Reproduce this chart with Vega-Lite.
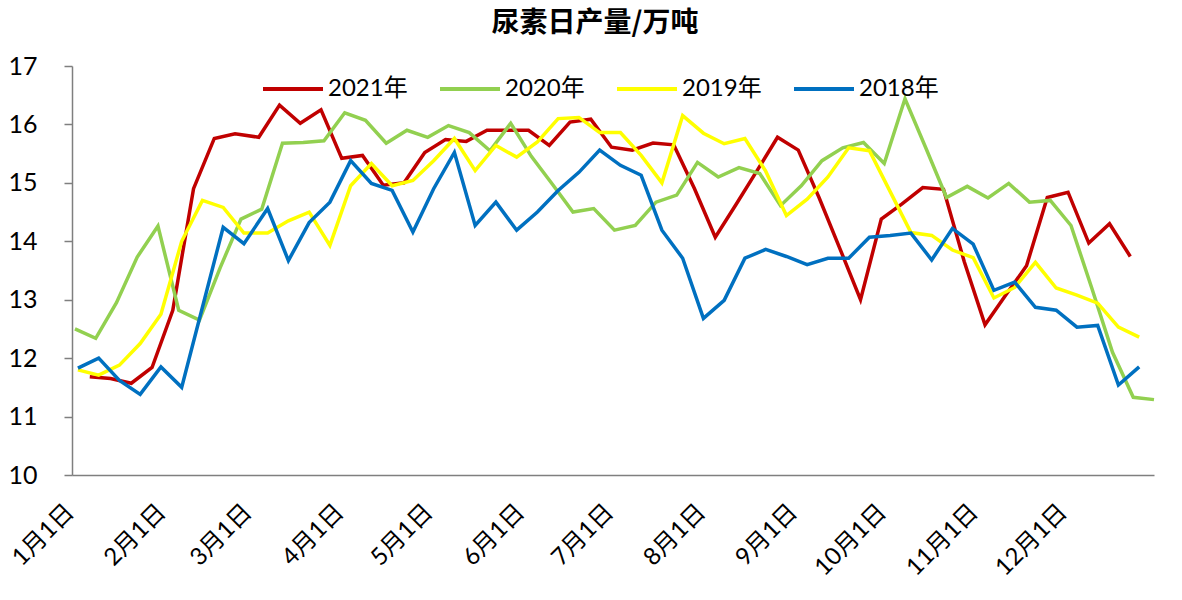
{
  "$schema": "https://vega.github.io/schema/vega-lite/v6.json",
  "description": "尿素日产量/万吨, weekly, 2018-2021",
  "width": 1082,
  "height": 409,
  "autosize": "none",
  "padding": {"left": 72, "top": 66, "right": 28, "bottom": 125},
  "background": "#ffffff",
  "title": {
    "text": "尿素日产量/万吨",
    "font": "Noto Sans CJK SC",
    "fontSize": 28,
    "fontWeight": "bold",
    "color": "#000000",
    "anchor": "middle",
    "frame": "group",
    "offset": 16,
    "dx": -18
  },
  "data": {
    "values": [
      {"s": "2021年", "date": "2021-01-07", "v": 11.68},
      {"s": "2021年", "date": "2021-01-14", "v": 11.65},
      {"s": "2021年", "date": "2021-01-21", "v": 11.57},
      {"s": "2021年", "date": "2021-01-28", "v": 11.84},
      {"s": "2021年", "date": "2021-02-04", "v": 12.82},
      {"s": "2021年", "date": "2021-02-11", "v": 14.9},
      {"s": "2021年", "date": "2021-02-18", "v": 15.76},
      {"s": "2021年", "date": "2021-02-25", "v": 15.84},
      {"s": "2021年", "date": "2021-03-04", "v": 15.78},
      {"s": "2021年", "date": "2021-03-11", "v": 16.33},
      {"s": "2021年", "date": "2021-03-18", "v": 16.02},
      {"s": "2021年", "date": "2021-03-25", "v": 16.25},
      {"s": "2021年", "date": "2021-04-01", "v": 15.42},
      {"s": "2021年", "date": "2021-04-08", "v": 15.47},
      {"s": "2021年", "date": "2021-04-15", "v": 14.96},
      {"s": "2021年", "date": "2021-04-22", "v": 15.0},
      {"s": "2021年", "date": "2021-04-29", "v": 15.52},
      {"s": "2021年", "date": "2021-05-06", "v": 15.74},
      {"s": "2021年", "date": "2021-05-13", "v": 15.71},
      {"s": "2021年", "date": "2021-05-20", "v": 15.9},
      {"s": "2021年", "date": "2021-05-27", "v": 15.9},
      {"s": "2021年", "date": "2021-06-03", "v": 15.9},
      {"s": "2021年", "date": "2021-06-10", "v": 15.64},
      {"s": "2021年", "date": "2021-06-17", "v": 16.04},
      {"s": "2021年", "date": "2021-06-24", "v": 16.09},
      {"s": "2021年", "date": "2021-07-01", "v": 15.61},
      {"s": "2021年", "date": "2021-07-08", "v": 15.56},
      {"s": "2021年", "date": "2021-07-15", "v": 15.68},
      {"s": "2021年", "date": "2021-07-22", "v": 15.65},
      {"s": "2021年", "date": "2021-07-29", "v": 14.9},
      {"s": "2021年", "date": "2021-08-05", "v": 14.07},
      {"s": "2021年", "date": "2021-08-12", "v": 14.63},
      {"s": "2021年", "date": "2021-08-19", "v": 15.2},
      {"s": "2021年", "date": "2021-08-26", "v": 15.78},
      {"s": "2021年", "date": "2021-09-02", "v": 15.56},
      {"s": "2021年", "date": "2021-09-09", "v": 14.75},
      {"s": "2021年", "date": "2021-09-16", "v": 13.88},
      {"s": "2021年", "date": "2021-09-23", "v": 13.0},
      {"s": "2021年", "date": "2021-09-30", "v": 14.38},
      {"s": "2021年", "date": "2021-10-07", "v": 14.64},
      {"s": "2021年", "date": "2021-10-14", "v": 14.92},
      {"s": "2021年", "date": "2021-10-21", "v": 14.89},
      {"s": "2021年", "date": "2021-10-28", "v": 13.65},
      {"s": "2021年", "date": "2021-11-04", "v": 12.57},
      {"s": "2021年", "date": "2021-11-11", "v": 13.08},
      {"s": "2021年", "date": "2021-11-18", "v": 13.58},
      {"s": "2021年", "date": "2021-11-25", "v": 14.75},
      {"s": "2021年", "date": "2021-12-02", "v": 14.84},
      {"s": "2021年", "date": "2021-12-09", "v": 13.97},
      {"s": "2021年", "date": "2021-12-16", "v": 14.3},
      {"s": "2021年", "date": "2021-12-23", "v": 13.74},

      {"s": "2020年", "date": "2020-01-02", "v": 12.5},
      {"s": "2020年", "date": "2020-01-09", "v": 12.34},
      {"s": "2020年", "date": "2020-01-16", "v": 12.95},
      {"s": "2020年", "date": "2020-01-23", "v": 13.73},
      {"s": "2020年", "date": "2020-01-30", "v": 14.26},
      {"s": "2020年", "date": "2020-02-06", "v": 12.82},
      {"s": "2020年", "date": "2020-02-13", "v": 12.65},
      {"s": "2020年", "date": "2020-02-20", "v": 13.55},
      {"s": "2020年", "date": "2020-02-27", "v": 14.38},
      {"s": "2020年", "date": "2020-03-05", "v": 14.55},
      {"s": "2020年", "date": "2020-03-12", "v": 15.68},
      {"s": "2020年", "date": "2020-03-19", "v": 15.69},
      {"s": "2020年", "date": "2020-03-26", "v": 15.72},
      {"s": "2020年", "date": "2020-04-02", "v": 16.2},
      {"s": "2020年", "date": "2020-04-09", "v": 16.07},
      {"s": "2020年", "date": "2020-04-16", "v": 15.68},
      {"s": "2020年", "date": "2020-04-23", "v": 15.9},
      {"s": "2020年", "date": "2020-04-30", "v": 15.78},
      {"s": "2020年", "date": "2020-05-07", "v": 15.98},
      {"s": "2020年", "date": "2020-05-14", "v": 15.86},
      {"s": "2020年", "date": "2020-05-21", "v": 15.55},
      {"s": "2020年", "date": "2020-05-28", "v": 16.02},
      {"s": "2020年", "date": "2020-06-04", "v": 15.45},
      {"s": "2020年", "date": "2020-06-11", "v": 14.98},
      {"s": "2020年", "date": "2020-06-18", "v": 14.5},
      {"s": "2020年", "date": "2020-06-25", "v": 14.56},
      {"s": "2020年", "date": "2020-07-02", "v": 14.19},
      {"s": "2020年", "date": "2020-07-09", "v": 14.27},
      {"s": "2020年", "date": "2020-07-16", "v": 14.67},
      {"s": "2020年", "date": "2020-07-23", "v": 14.79},
      {"s": "2020年", "date": "2020-07-30", "v": 15.35},
      {"s": "2020年", "date": "2020-08-06", "v": 15.1},
      {"s": "2020年", "date": "2020-08-13", "v": 15.26},
      {"s": "2020年", "date": "2020-08-20", "v": 15.16},
      {"s": "2020年", "date": "2020-08-27", "v": 14.61},
      {"s": "2020年", "date": "2020-09-03", "v": 14.95},
      {"s": "2020年", "date": "2020-09-10", "v": 15.38},
      {"s": "2020年", "date": "2020-09-17", "v": 15.6},
      {"s": "2020年", "date": "2020-09-24", "v": 15.69},
      {"s": "2020年", "date": "2020-10-01", "v": 15.33},
      {"s": "2020年", "date": "2020-10-08", "v": 16.44},
      {"s": "2020年", "date": "2020-10-15", "v": 15.6},
      {"s": "2020年", "date": "2020-10-22", "v": 14.75},
      {"s": "2020年", "date": "2020-10-29", "v": 14.94},
      {"s": "2020年", "date": "2020-11-05", "v": 14.74},
      {"s": "2020年", "date": "2020-11-12", "v": 14.99},
      {"s": "2020年", "date": "2020-11-19", "v": 14.67},
      {"s": "2020年", "date": "2020-11-26", "v": 14.7},
      {"s": "2020年", "date": "2020-12-03", "v": 14.27},
      {"s": "2020年", "date": "2020-12-10", "v": 13.2},
      {"s": "2020年", "date": "2020-12-17", "v": 12.1},
      {"s": "2020年", "date": "2020-12-24", "v": 11.33},
      {"s": "2020年", "date": "2020-12-31", "v": 11.29},

      {"s": "2019年", "date": "2019-01-03", "v": 11.8},
      {"s": "2019年", "date": "2019-01-10", "v": 11.71},
      {"s": "2019年", "date": "2019-01-17", "v": 11.88},
      {"s": "2019年", "date": "2019-01-24", "v": 12.25},
      {"s": "2019年", "date": "2019-01-31", "v": 12.75},
      {"s": "2019年", "date": "2019-02-07", "v": 14.0},
      {"s": "2019年", "date": "2019-02-14", "v": 14.7},
      {"s": "2019年", "date": "2019-02-21", "v": 14.58},
      {"s": "2019年", "date": "2019-02-28", "v": 14.14},
      {"s": "2019年", "date": "2019-03-07", "v": 14.14},
      {"s": "2019年", "date": "2019-03-14", "v": 14.35},
      {"s": "2019年", "date": "2019-03-21", "v": 14.5},
      {"s": "2019年", "date": "2019-03-28", "v": 13.93},
      {"s": "2019年", "date": "2019-04-04", "v": 14.95},
      {"s": "2019年", "date": "2019-04-11", "v": 15.33},
      {"s": "2019年", "date": "2019-04-18", "v": 14.95},
      {"s": "2019年", "date": "2019-04-25", "v": 15.04},
      {"s": "2019年", "date": "2019-05-02", "v": 15.38},
      {"s": "2019年", "date": "2019-05-09", "v": 15.76},
      {"s": "2019年", "date": "2019-05-16", "v": 15.21},
      {"s": "2019年", "date": "2019-05-23", "v": 15.64},
      {"s": "2019年", "date": "2019-05-30", "v": 15.44},
      {"s": "2019年", "date": "2019-06-06", "v": 15.7},
      {"s": "2019年", "date": "2019-06-13", "v": 16.1},
      {"s": "2019年", "date": "2019-06-20", "v": 16.12},
      {"s": "2019年", "date": "2019-06-27", "v": 15.86},
      {"s": "2019年", "date": "2019-07-04", "v": 15.86},
      {"s": "2019年", "date": "2019-07-11", "v": 15.47},
      {"s": "2019年", "date": "2019-07-18", "v": 15.0},
      {"s": "2019年", "date": "2019-07-25", "v": 16.15},
      {"s": "2019年", "date": "2019-08-01", "v": 15.85},
      {"s": "2019年", "date": "2019-08-08", "v": 15.67},
      {"s": "2019年", "date": "2019-08-15", "v": 15.76},
      {"s": "2019年", "date": "2019-08-22", "v": 15.2},
      {"s": "2019年", "date": "2019-08-29", "v": 14.44},
      {"s": "2019年", "date": "2019-09-05", "v": 14.72},
      {"s": "2019年", "date": "2019-09-12", "v": 15.1},
      {"s": "2019年", "date": "2019-09-19", "v": 15.6},
      {"s": "2019年", "date": "2019-09-26", "v": 15.55},
      {"s": "2019年", "date": "2019-10-03", "v": 14.85},
      {"s": "2019年", "date": "2019-10-10", "v": 14.15},
      {"s": "2019年", "date": "2019-10-17", "v": 14.1},
      {"s": "2019年", "date": "2019-10-24", "v": 13.85},
      {"s": "2019年", "date": "2019-10-31", "v": 13.72},
      {"s": "2019年", "date": "2019-11-07", "v": 13.03},
      {"s": "2019年", "date": "2019-11-14", "v": 13.21},
      {"s": "2019年", "date": "2019-11-21", "v": 13.64},
      {"s": "2019年", "date": "2019-11-28", "v": 13.2},
      {"s": "2019年", "date": "2019-12-05", "v": 13.08},
      {"s": "2019年", "date": "2019-12-12", "v": 12.94},
      {"s": "2019年", "date": "2019-12-19", "v": 12.53},
      {"s": "2019年", "date": "2019-12-26", "v": 12.36},

      {"s": "2018年", "date": "2018-01-03", "v": 11.83},
      {"s": "2018年", "date": "2018-01-10", "v": 12.0},
      {"s": "2018年", "date": "2018-01-17", "v": 11.62},
      {"s": "2018年", "date": "2018-01-24", "v": 11.38},
      {"s": "2018年", "date": "2018-01-31", "v": 11.85},
      {"s": "2018年", "date": "2018-02-07", "v": 11.5},
      {"s": "2018年", "date": "2018-02-14", "v": 12.87},
      {"s": "2018年", "date": "2018-02-21", "v": 14.24},
      {"s": "2018年", "date": "2018-02-28", "v": 13.96},
      {"s": "2018年", "date": "2018-03-07", "v": 14.56},
      {"s": "2018年", "date": "2018-03-14", "v": 13.67},
      {"s": "2018年", "date": "2018-03-21", "v": 14.32},
      {"s": "2018年", "date": "2018-03-28", "v": 14.67},
      {"s": "2018年", "date": "2018-04-04", "v": 15.38},
      {"s": "2018年", "date": "2018-04-11", "v": 14.99},
      {"s": "2018年", "date": "2018-04-18", "v": 14.87},
      {"s": "2018年", "date": "2018-04-25", "v": 14.16},
      {"s": "2018年", "date": "2018-05-02", "v": 14.9},
      {"s": "2018年", "date": "2018-05-09", "v": 15.52},
      {"s": "2018年", "date": "2018-05-16", "v": 14.27},
      {"s": "2018年", "date": "2018-05-23", "v": 14.67},
      {"s": "2018年", "date": "2018-05-30", "v": 14.19},
      {"s": "2018年", "date": "2018-06-06", "v": 14.5},
      {"s": "2018年", "date": "2018-06-13", "v": 14.87},
      {"s": "2018年", "date": "2018-06-20", "v": 15.18},
      {"s": "2018年", "date": "2018-06-27", "v": 15.56},
      {"s": "2018年", "date": "2018-07-04", "v": 15.3},
      {"s": "2018年", "date": "2018-07-11", "v": 15.13},
      {"s": "2018年", "date": "2018-07-18", "v": 14.19},
      {"s": "2018年", "date": "2018-07-25", "v": 13.71},
      {"s": "2018年", "date": "2018-08-01", "v": 12.68},
      {"s": "2018年", "date": "2018-08-08", "v": 12.99},
      {"s": "2018年", "date": "2018-08-15", "v": 13.71},
      {"s": "2018年", "date": "2018-08-22", "v": 13.86},
      {"s": "2018年", "date": "2018-08-29", "v": 13.74},
      {"s": "2018年", "date": "2018-09-05", "v": 13.6},
      {"s": "2018年", "date": "2018-09-12", "v": 13.71},
      {"s": "2018年", "date": "2018-09-19", "v": 13.71},
      {"s": "2018年", "date": "2018-09-26", "v": 14.07},
      {"s": "2018年", "date": "2018-10-03", "v": 14.1},
      {"s": "2018年", "date": "2018-10-10", "v": 14.14},
      {"s": "2018年", "date": "2018-10-17", "v": 13.68},
      {"s": "2018年", "date": "2018-10-24", "v": 14.22},
      {"s": "2018年", "date": "2018-10-31", "v": 13.95},
      {"s": "2018年", "date": "2018-11-07", "v": 13.16},
      {"s": "2018年", "date": "2018-11-14", "v": 13.3},
      {"s": "2018年", "date": "2018-11-21", "v": 12.87},
      {"s": "2018年", "date": "2018-11-28", "v": 12.82},
      {"s": "2018年", "date": "2018-12-05", "v": 12.53},
      {"s": "2018年", "date": "2018-12-12", "v": 12.56},
      {"s": "2018年", "date": "2018-12-19", "v": 11.54},
      {"s": "2018年", "date": "2018-12-26", "v": 11.85}
    ]
  },
  "mark": {"type": "line", "strokeWidth": 3.5, "strokeJoin": "miter"},
  "encoding": {
    "x": {
      "field": "date",
      "timeUnit": "utcmonthdate",
      "type": "temporal",
      "scale": {
        "type": "utc",
        "domain": [
          {"year": 2012, "month": 1, "date": 1, "utc": true},
          {"year": 2012, "month": 12, "date": 31, "utc": true}
        ]
      },
      "axis": {
        "title": null,
        "values": [
          {"year": 2012, "month": 1, "date": 1, "utc": true},
          {"year": 2012, "month": 2, "date": 1, "utc": true},
          {"year": 2012, "month": 3, "date": 1, "utc": true},
          {"year": 2012, "month": 4, "date": 1, "utc": true},
          {"year": 2012, "month": 5, "date": 1, "utc": true},
          {"year": 2012, "month": 6, "date": 1, "utc": true},
          {"year": 2012, "month": 7, "date": 1, "utc": true},
          {"year": 2012, "month": 8, "date": 1, "utc": true},
          {"year": 2012, "month": 9, "date": 1, "utc": true},
          {"year": 2012, "month": 10, "date": 1, "utc": true},
          {"year": 2012, "month": 11, "date": 1, "utc": true},
          {"year": 2012, "month": 12, "date": 1, "utc": true}
        ],
        "format": "%-m月%-d日",
        "labelAngle": -45,
        "labelAlign": "right",
        "labelBaseline": "middle",
        "labelFontSize": 24,
        "labelPadding": 33,
        "labelOffset": -2,
        "ticks": false,
        "grid": false,
        "domainColor": "#7f7f7f",
        "domainWidth": 1.5
      }
    },
    "y": {
      "field": "v",
      "type": "quantitative",
      "scale": {"domain": [10, 17], "nice": false, "zero": false},
      "axis": {
        "title": null,
        "values": [10, 11, 12, 13, 14, 15, 16, 17],
        "labelFontSize": 25,
        "labelPadding": 27,
        "tickSize": 8,
        "tickColor": "#7f7f7f",
        "domainColor": "#7f7f7f",
        "domainWidth": 1.5,
        "tickWidth": 1.5,
        "grid": false
      }
    },
    "color": {
      "field": "s",
      "type": "nominal",
      "scale": {
        "domain": ["2021年", "2020年", "2019年", "2018年"],
        "range": ["#c00000", "#92d050", "#ffff00", "#0070c0"]
      },
      "legend": {
        "title": null,
        "orient": "none",
        "legendX": 189,
        "legendY": -9,
        "direction": "horizontal",
        "symbolType": "stroke",
        "symbolSize": 3600,
        "symbolStrokeWidth": 4,
        "labelFontSize": 24,
        "labelOffset": 3,
        "columnPadding": 24
      }
    }
  },
  "config": {
    "font": "Lato, Noto Sans CJK SC",
    "view": {"stroke": null},
    "axis": {"labelColor": "#000000", "labelFont": "Lato, Noto Sans CJK SC"},
    "legend": {"labelColor": "#000000", "labelFont": "Lato, Noto Sans CJK SC"}
  }
}
